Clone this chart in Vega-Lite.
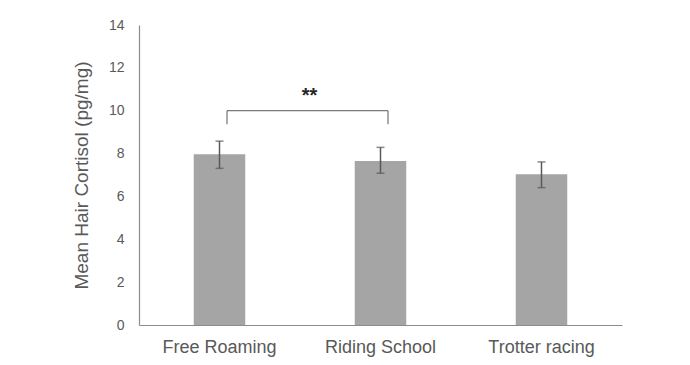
{
  "$schema": "https://vega.github.io/schema/vega-lite/v6.json",
  "autosize": "none",
  "width": 483,
  "height": 300,
  "padding": {"left": 139, "top": 25, "right": 68, "bottom": 40},
  "config": {
    "view": {"stroke": null},
    "font": "Liberation Sans"
  },
  "datasets": {
    "bars": [
      {"group": "Free Roaming", "mean": 7.97, "lo": 7.31, "hi": 8.58},
      {"group": "Riding School", "mean": 7.65, "lo": 7.08, "hi": 8.29},
      {"group": "Trotter racing", "mean": 7.03, "lo": 6.41, "hi": 7.61}
    ],
    "bracketH": [
      {"from": "Free Roaming", "to": "Riding School", "y": 10.0}
    ],
    "bracketV": [
      {"group": "Free Roaming", "y1": 9.37, "y2": 10.0},
      {"group": "Riding School", "y1": 9.37, "y2": 10.0}
    ],
    "sig": [
      {"group": "Free Roaming", "y": 10.7, "label": "**"}
    ]
  },
  "layer": [
    {
      "data": {"name": "bars"},
      "mark": {"type": "bar", "color": "#a5a5a5"},
      "encoding": {
        "x": {
          "field": "group", "type": "nominal", "sort": null,
          "scale": {"paddingInner": 0.68, "paddingOuter": 0.34},
          "axis": {
            "title": null, "labelAngle": 0, "labelFontSize": 18, "labelColor": "#595959",
            "labelPadding": 13, "ticks": false, "domainColor": "#8c8c8c", "domainWidth": 1.2
          }
        },
        "y": {
          "field": "mean", "type": "quantitative",
          "scale": {"domain": [0, 14]},
          "axis": {
            "title": "Mean Hair Cortisol (pg/mg)", "titleFontSize": 19, "titleFontWeight": "normal",
            "titleColor": "#595959", "titlePadding": 17,
            "values": [0, 2, 4, 6, 8, 10, 12, 14], "labelFontSize": 14, "labelColor": "#595959",
            "labelPadding": 15, "ticks": false, "grid": false,
            "domainColor": "#8c8c8c", "domainWidth": 1.2
          }
        }
      }
    },
    {
      "data": {"name": "bars"},
      "mark": {"type": "rule", "color": "#595959", "strokeWidth": 1.5},
      "encoding": {
        "x": {"field": "group", "type": "nominal", "sort": null},
        "y": {"field": "lo", "type": "quantitative"},
        "y2": {"field": "hi"}
      }
    },
    {
      "data": {"name": "bars"},
      "mark": {"type": "tick", "color": "#595959", "size": 8, "thickness": 1.5},
      "encoding": {
        "x": {"field": "group", "type": "nominal", "sort": null},
        "y": {"field": "lo", "type": "quantitative"}
      }
    },
    {
      "data": {"name": "bars"},
      "mark": {"type": "tick", "color": "#595959", "size": 8, "thickness": 1.5},
      "encoding": {
        "x": {"field": "group", "type": "nominal", "sort": null},
        "y": {"field": "hi", "type": "quantitative"}
      }
    },
    {
      "data": {"name": "bracketH"},
      "mark": {"type": "rule", "color": "#595959", "strokeWidth": 1, "xOffset": 7.5, "x2Offset": 7.5},
      "encoding": {
        "x": {"field": "from", "type": "nominal", "sort": null},
        "x2": {"field": "to"},
        "y": {"field": "y", "type": "quantitative"}
      }
    },
    {
      "data": {"name": "bracketV"},
      "mark": {"type": "rule", "color": "#595959", "strokeWidth": 1, "xOffset": 7.5},
      "encoding": {
        "x": {"field": "group", "type": "nominal", "sort": null},
        "y": {"field": "y1", "type": "quantitative"},
        "y2": {"field": "y2"}
      }
    },
    {
      "data": {"name": "sig"},
      "mark": {"type": "text", "color": "#262626", "fontSize": 20, "fontWeight": "bold", "letterSpacing": 2, "xOffset": 90, "baseline": "middle"},
      "encoding": {
        "x": {"field": "group", "type": "nominal", "sort": null},
        "y": {"field": "y", "type": "quantitative"},
        "text": {"field": "label"}
      }
    }
  ]
}
